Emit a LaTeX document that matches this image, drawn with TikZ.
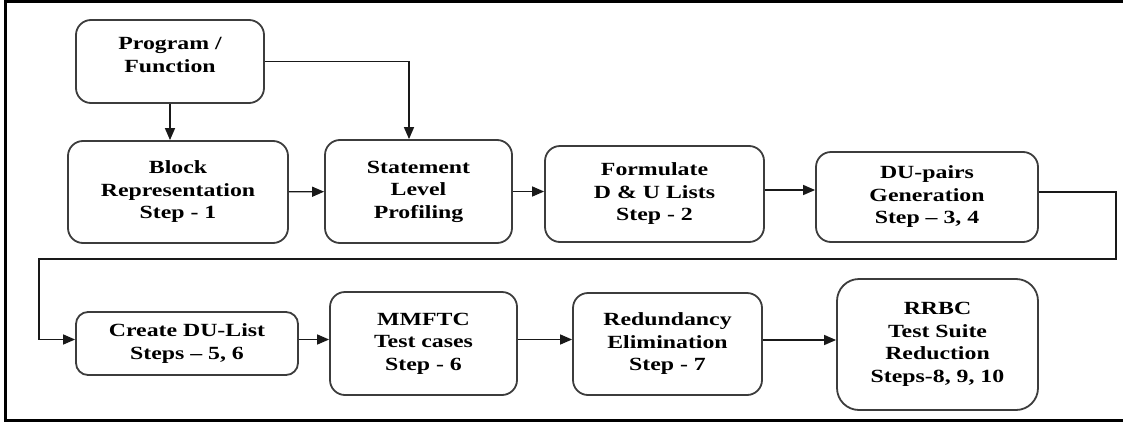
\documentclass[tikz,border=0pt]{standalone}
\usepackage{fontspec}
\setmainfont{Liberation Serif}[FakeStretch=1.28, BoldFont={Liberation Serif Bold}]
\usepackage{tikz}
\usetikzlibrary{arrows.meta}
\definecolor{boxline}{RGB}{60,60,60}
\definecolor{wireline}{RGB}{25,25,25}
\tikzstyle{steptext} = [align=center, font=\bfseries\fontsize{18.6}{22.5}\selectfont]
\tikzstyle{stepbox} = [steptext, rectangle, rounded corners=15pt, draw=boxline, line width=1.8pt, fill=white, inner sep=0pt]
\tikzstyle{arrow} = [line width=1.4pt, ->, >={Triangle[length=12pt,width=10pt]}, color=wireline]

\begin{document}
\begin{tikzpicture}[x=1pt, y=-1pt]
\useasboundingbox (0,0) rectangle (1123,423);
% Frame, open on the right
\draw[line width=3pt] (1123,1.5) -| (5.5,420.5) -- (1123,420.5);

% Top row
\node[stepbox, minimum width=188pt, minimum height=83pt] at (170,61.5) (prog) {};
\node[steptext] at (170,55) (progtext) {Program /\\Function};
\node[stepbox, minimum width=220pt, minimum height=102pt] at (178,192) (block) {Block\\Representation\\Step - 1};
\node[stepbox, minimum width=187pt, minimum height=103pt] at (418.5,191.5) (stmt) {Statement\\Level\\Profiling};
\node[stepbox, minimum width=219pt, minimum height=96pt] at (654.5,194) (form) {Formulate\\D \& U Lists\\Step - 2};
\node[stepbox, minimum width=222pt, minimum height=90pt] at (927,197) (dupair) {DU-pairs\\Generation\\Step -- 3, 4};

% Bottom row
\node[stepbox, minimum width=222pt, minimum height=63pt, rounded corners=12pt] at (187,343.5) (dulist) {Create DU-List\\Steps -- 5, 6};
\node[stepbox, minimum width=187pt, minimum height=103pt] at (423.5,343.5) (mmftc) {MMFTC\\Test cases\\Step - 6};
\node[stepbox, minimum width=189pt, minimum height=102pt] at (667.5,344) (redund) {Redundancy\\Elimination\\Step - 7};
\node[stepbox, minimum width=201pt, minimum height=131pt, rounded corners=22pt] at (937.5,344.5) (rrbc) {RRBC\\Test Suite\\Reduction\\Steps-8, 9, 10};

% Arrows
\draw[arrow] (prog.south) -- (prog.south |- block.north);
\draw[arrow] (prog.east) -| ([xshift=-9.5pt]stmt.north);
\draw[arrow] (block) -- (stmt);
\draw[arrow] (stmt.east) -- (stmt.east -| form.west);
\draw[arrow] ([yshift=4pt]form.east) -- ([yshift=4pt]form.east -| dupair.west);

% Wrap to the second row
\coordinate (bendR) at (1116,259);
\coordinate (bendL) at (39,259);
\draw[arrow] ([yshift=5pt]dupair.east) -| (bendR) -- (bendL) |- ([yshift=4pt]dulist.west);

\draw[arrow] ([yshift=4pt]dulist.east) -- ([yshift=4pt]dulist.east -| mmftc.west);
\draw[arrow] ([yshift=4pt]mmftc.east) -- ([yshift=4pt]mmftc.east -| redund.west);
\draw[arrow] ([yshift=4pt]redund.east) -- ([yshift=4pt]redund.east -| rrbc.west);
\end{tikzpicture}
\end{document}
